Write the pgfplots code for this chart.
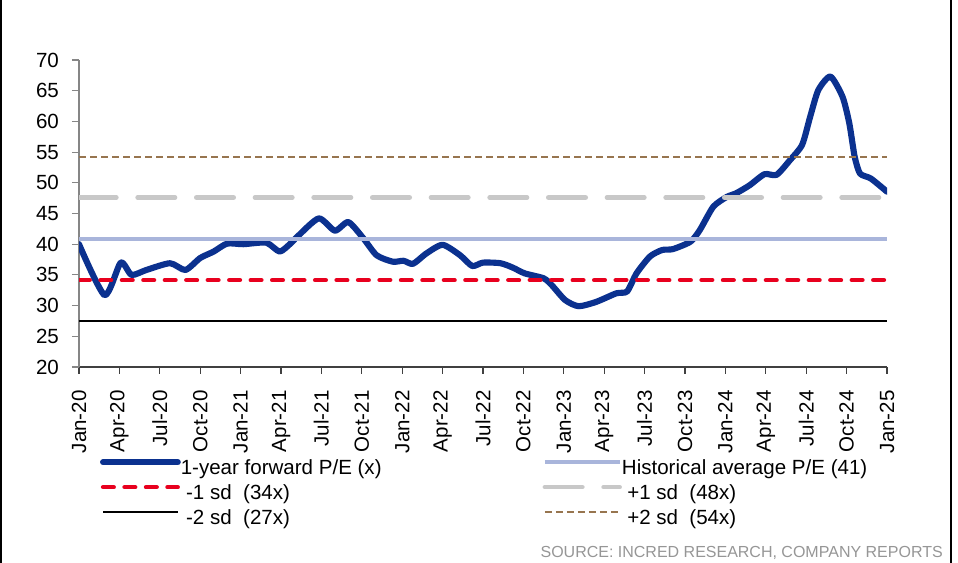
\documentclass[border=0pt]{standalone}
\usepackage{pgfplots}
\pgfplotsset{compat=1.18}
\usepackage{fontspec}
\setmainfont{Liberation Sans}
\definecolor{navy}{RGB}{11,49,143}
\definecolor{histblue}{RGB}{169,181,219}
\definecolor{sdgray}{RGB}{200,200,200}
\definecolor{sdred}{RGB}{232,0,30}
\definecolor{sdbrown}{RGB}{151,117,79}
\definecolor{axgray}{RGB}{134,134,134}
\definecolor{srcgray}{RGB}{150,150,150}
\pgfplotstableread{
m v
0 40.0
1.9 31.7
3.1 37.0
3.9 35.0
5.0 35.8
6.76 36.9
7.9 35.8
9.0 37.75
10.0 38.8
11.0 40.1
12.2 40.0
13.9 40.25
14.9 38.8
15.7 40.1
16.2 41.2
17.8 44.2
19.0 42.2
20.0 43.6
21.1 41.0
22.1 38.2
23.3 37.15
24.1 37.3
24.8 36.8
25.8 38.5
27.0 39.9
28.3 38.2
29.2 36.45
30.0 37.0
31.3 36.9
32.2 36.2
33.1 35.25
34.5 34.45
35.1 33.35
36.1 30.9
37.1 29.9
38.4 30.6
39.9 32.0
40.7 32.3
41.4 35.25
42.4 38.0
43.3 39.05
44.1 39.2
45.4 40.4
46.1 42.3
47.1 46.1
48.1 47.7
48.8 48.3
49.8 49.6
50.9 51.4
51.8 51.3
52.8 53.7
53.7 56.2
54.3 60.8
54.9 65.1
55.8 67.3
56.7 64.0
57.2 59.7
57.6 54.25
58.0 51.5
58.8 50.7
60.0 48.55
}\fwdpe
\begin{document}
\fontsize{15.4pt}{18pt}\selectfont
\begin{tikzpicture}
\useasboundingbox (0,0) rectangle (718.5pt,422.25pt);
\fill[white] (0,0) rectangle (718.5pt,422.25pt);
\draw[black, line width=1.5pt] (0.75pt,0) -- (0.75pt,422.25pt);
\draw[black, line width=1.5pt] (713.6pt,0) -- (713.6pt,422.25pt);
\begin{axis}[
  at={(59.25pt,147pt)}, anchor=south west,
  scale only axis, width=606pt, height=230.25pt,
  xmin=0, xmax=60, ymin=20, ymax=70,
  axis x line*=bottom, axis y line*=left,
  x axis line style={-, color=black!75, line width=0.8pt},
  y axis line style={-, color=axgray, line width=0.8pt},
  tick align=outside, major tick length=5.25pt,
  xtick style={color=black!75, line width=0.8pt},
  ytick style={color=axgray, line width=0.8pt},
  xtick={0,3,...,60},
  xticklabels={Jan-20,Apr-20,Jul-20,Oct-20,Jan-21,Apr-21,Jul-21,Oct-21,Jan-22,Apr-22,Jul-22,Oct-22,Jan-23,Apr-23,Jul-23,Oct-23,Jan-24,Apr-24,Jul-24,Oct-24,Jan-25},
  xticklabel style={rotate=90, anchor=east},
  xticklabel shift=7pt,
  yticklabel shift=4.5pt,
  ytick={20,25,...,70},
  /pgf/number format/assume math mode=true,
  every tick label/.append style={font=\fontsize{15.4pt}{18pt}\selectfont},
  legend columns=2,
  legend cell align=left,
  legend image code/.code={\draw[#1] (0pt,0.35em) -- (56pt,0.35em);},
  legend style={at={(0.026,-0.3)}, anchor=north west, draw=none, fill=none,
    font=\fontsize{15.4pt}{18pt}\selectfont, inner sep=0pt, outer sep=0pt,
    row sep=3.75pt,
    nodes={inner sep=0pt, text height=11.5pt, text depth=3.5pt},
    /tikz/every odd column/.append style={column sep=0pt},
    /tikz/every even column/.append style={column sep=120.75pt}},
]
\addplot[navy, line width=4.6pt, smooth, tension=0.4, line cap=round, line join=round] table[x=m,y=v] {\fwdpe};
\addlegendentry{1-year forward P/E (x)}
\addplot[histblue, line width=3pt] coordinates {(0,40.85) (60,40.85)};
\addlegendentry{Historical average P/E (41)}
\addplot[sdred, line width=3.3pt, line cap=round, dash pattern=on 8pt off 8.1pt] coordinates {(0,34.15) (60,34.15)};
\addlegendentry{\hspace{4pt}-1 sd\ \ (34x)}
\addplot[sdgray, line width=3.5pt, line cap=round, dash pattern=on 28pt off 16pt] coordinates {(0,47.6) (60,47.6)};
\addlegendentry{\hspace{4pt}+1 sd\ \ (48x)}
\addplot[black, line width=1.9pt] coordinates {(0,27.5) (60,27.5)};
\addlegendentry{\hspace{4pt}-2 sd\ \ (27x)}
\addplot[sdbrown, line width=1.7pt, dash pattern=on 5pt off 3.25pt] coordinates {(0,54.25) (60,54.25)};
\addlegendentry{\hspace{4pt}+2 sd\ \ (54x)}
\end{axis}
\node[anchor=base east, font=\fontsize{12pt}{14pt}\selectfont, text=srcgray, inner sep=0pt] at (707.25pt,3.75pt) {SOURCE: INCRED RESEARCH, COMPANY REPORTS};
\end{tikzpicture}
\end{document}
